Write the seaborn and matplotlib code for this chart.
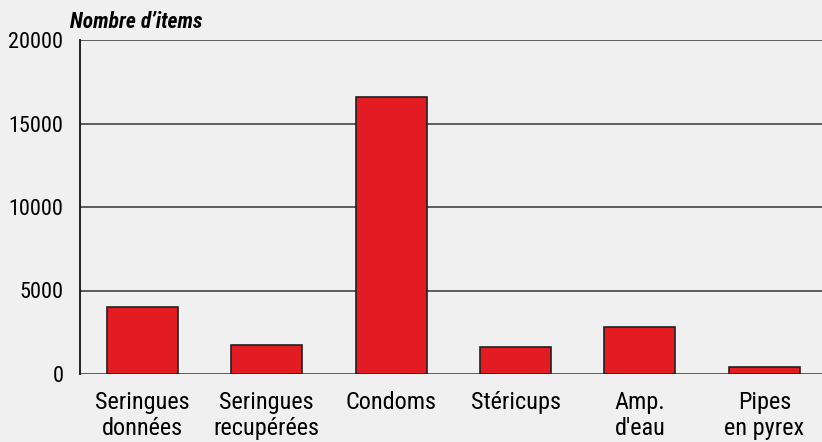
import matplotlib
matplotlib.use("Agg")
import matplotlib.pyplot as plt
import seaborn as sns
import pandas as pd
import numpy as np

categories = ["Seringues\ndonnées", "Seringues\nrecupérées", "Condoms",
              "Stéricups", "Amp.\nd'eau", "Pipes\nen pyrex"]
values = [4000, 1750, 16600, 1600, 2800, 400]
yticks = [0, 5000, 10000, 15000, 20000]

bg = "#f0f0f0"
sns.set_style("white", {"axes.facecolor": bg, "figure.facecolor": bg,
                        "text.color": "black", "xtick.color": "black",
                        "ytick.color": "black"})
plt.rcParams["font.family"] = ["Roboto Condensed", "Archivo Narrow",
                               "Barlow Condensed", "DejaVu Sans"]

df = pd.DataFrame({"cat": categories, "val": values})

fig = plt.figure(figsize=(8.22, 4.42), dpi=100)
W, H = 822, 442
ax = fig.add_axes([80 / W, 1 - 374 / H, 746.6 / W, 334 / H])

sns.barplot(data=df, x="cat", y="val", ax=ax, color="#e31b23", saturation=1,
            edgecolor="#222222", linewidth=1.2, width=0.57, zorder=3)

ax.set_ylim(0, 20000)
ax.set_xlim(-0.5, len(categories) - 0.5)
ax.set_yticks(yticks)
ax.set_yticklabels([str(v) for v in yticks], fontsize=16)
for y in yticks:
    ax.axhline(y, color="#505050", lw=1.3, zorder=1)

ax.set_xticks(range(len(categories)))
ax.set_xticklabels(categories, fontsize=17.5, linespacing=1.13)
ax.tick_params(axis="x", length=0, pad=12.5)
ax.set_xticks(np.arange(-0.5, len(categories), 1.0), minor=True)
ax.tick_params(axis="x", which="minor", length=5, width=1.2, color="#222222", direction="out")
ax.tick_params(axis="y", length=6, width=1.2, color="#222222", pad=6, direction="out")

for s in ["top", "right", "bottom"]:
    ax.spines[s].set_visible(False)
ax.spines["left"].set_color("#111111")
ax.spines["left"].set_linewidth(1.3)
ax.set_xlabel("")
ax.set_ylabel("")

fig.text(70 / W, 1 - 28 / H, "Nombre d’items", fontsize=15.5, fontweight="bold",
         fontstyle="italic", ha="left", va="baseline")

fig.savefig("out.png", dpi=100, facecolor=bg)
